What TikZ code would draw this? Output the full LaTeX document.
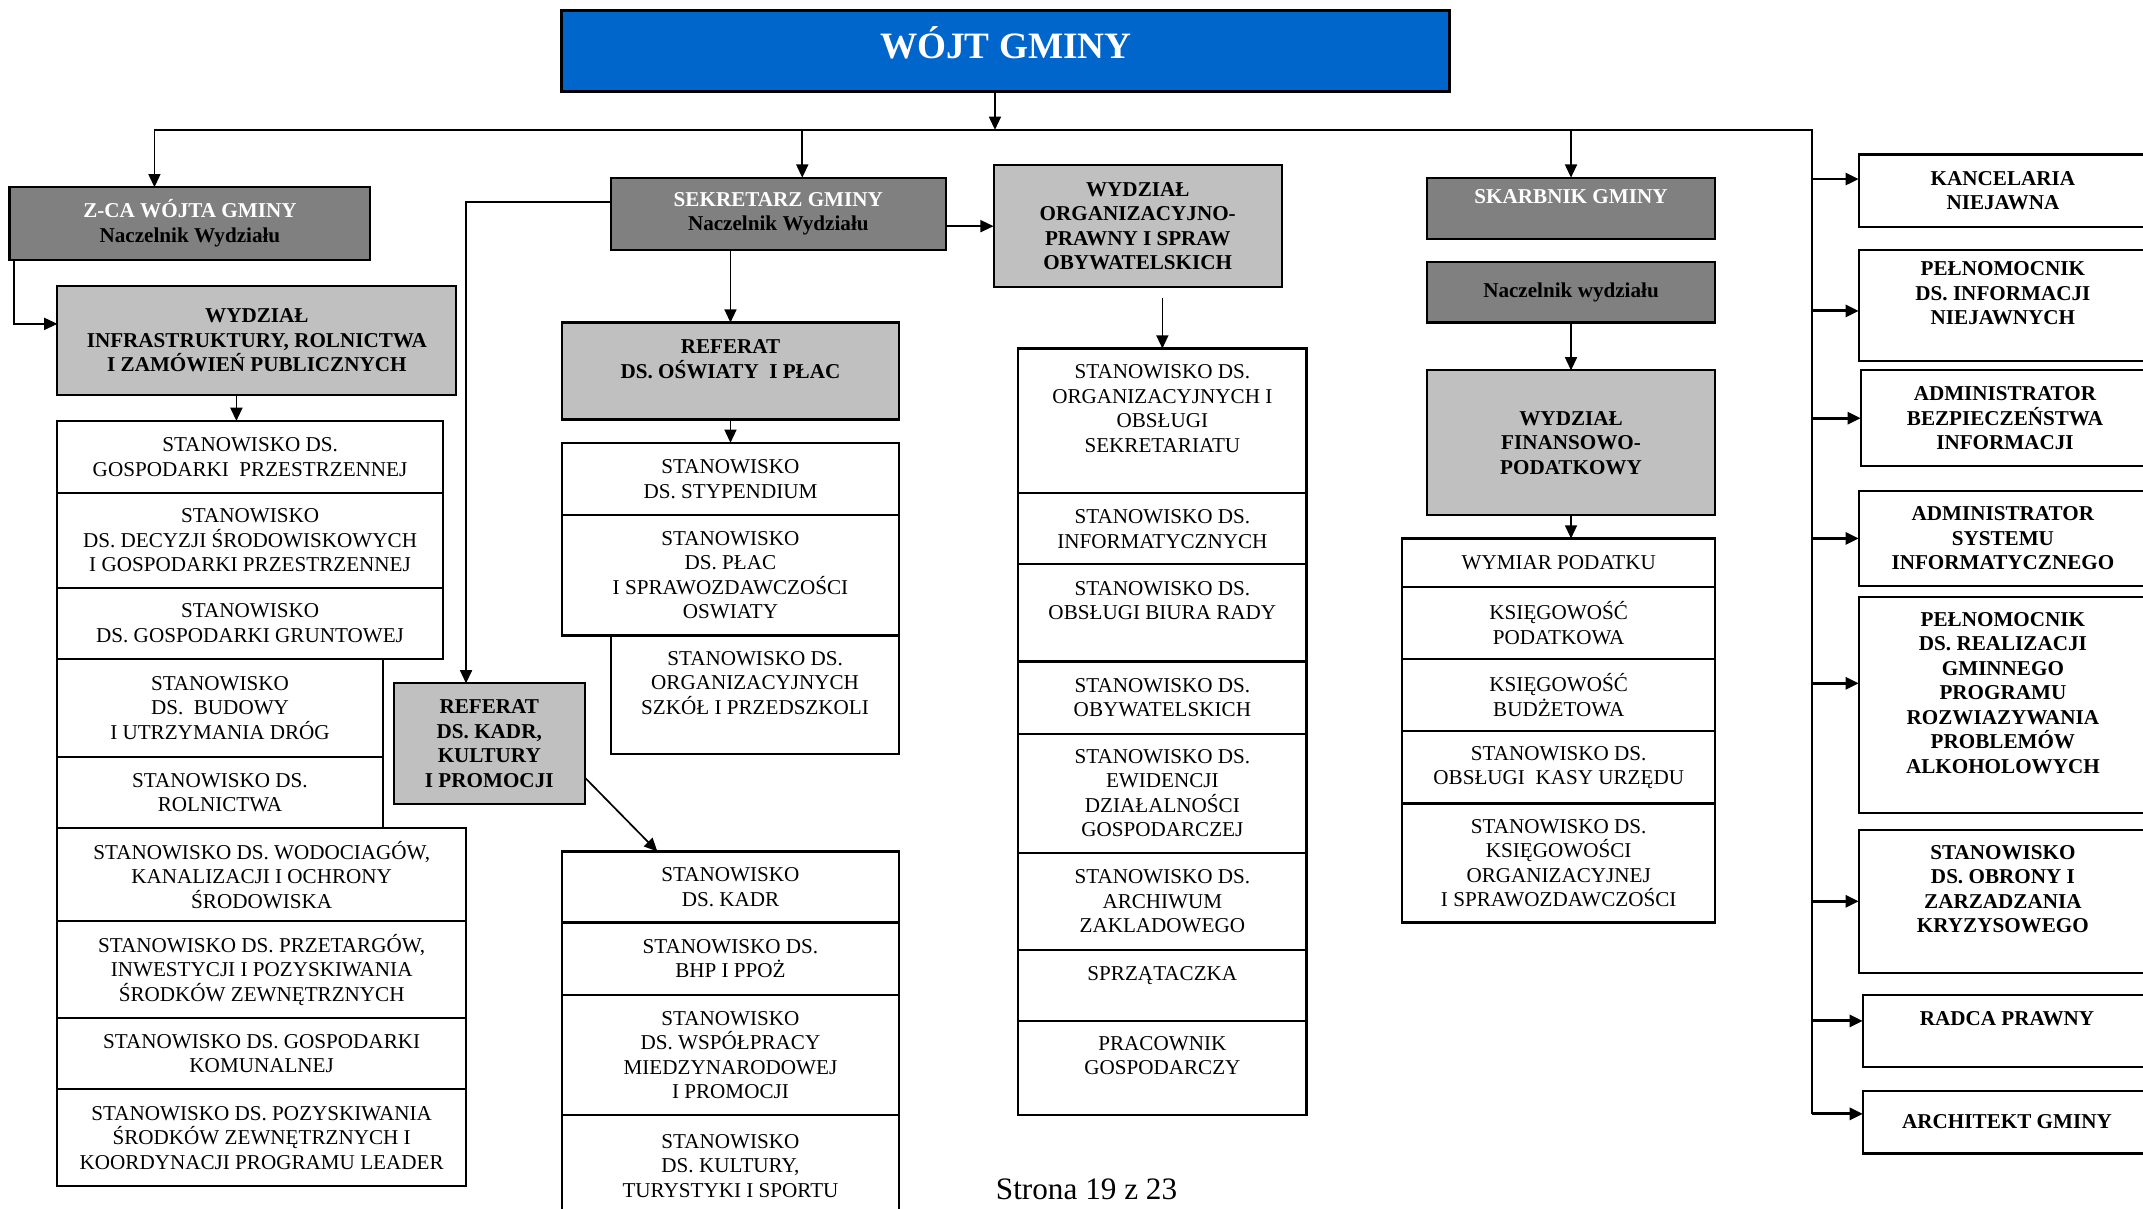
\documentclass[tikz,border=0pt]{standalone}
\usepackage{fontspec}
\setmainfont{Liberation Serif}
\usepackage{tikz}
\usetikzlibrary{positioning,arrows.meta}
\usepackage{xcolor}
\definecolor{wojtblue}{HTML}{0066CC}
\definecolor{headgray}{HTML}{808080}
\definecolor{unitgray}{HTML}{C0C0C0}
\tikzset{
  orgbox/.style={draw,line width=0.9pt,outer sep=0pt,inner sep=1pt,align=center,
    font=\fontsize{8.8}{10.2}\selectfont},
  stbox/.style={orgbox,fill=white},
  headbox/.style={orgbox,fill=headgray,font=\fontsize{8.8}{10.2}\selectfont\bfseries},
  unitbox/.style={orgbox,fill=unitgray,font=\fontsize{8.8}{10.2}\selectfont\bfseries},
  sidebox/.style={orgbox,fill=white,font=\fontsize{8.8}{10.2}\selectfont\bfseries,
    minimum width=4.22cm,anchor=north west},
}

\begin{document}
\begin{tikzpicture}[x=0.02cm,y=-0.02cm,>={Triangle[length=5.5pt,width=5pt]},line width=0.7pt]
\useasboundingbox (0,0) rectangle (1568,884);

% top of the chart
\node[orgbox,fill=wojtblue,line width=1.2pt,minimum width=13cm,minimum height=1.18cm,anchor=north west,
  text=white,font=\fontsize{15.5}{18}\selectfont\bfseries] (wojt) at (411,8) {WÓJT GMINY\\[-11pt]~};
\coordinate (busL) at (113,95);
\coordinate (busR) at (1326,95);
\coordinate (busW) at (728,95);
\coordinate (tapS) at (587,95);

% left column
\node[headbox,minimum width=5.28cm,minimum height=1.06cm,anchor=north west] (zca) at (7,137)
  {{\color{white}Z-CA WÓJTA GMINY}\\Naczelnik Wydziału};
\node[unitbox,minimum width=5.84cm,minimum height=1.6cm,anchor=north west] (infra) at (42,209)
  {WYDZIAŁ\\INFRASTRUKTURY, ROLNICTWA\\I ZAMÓWIEŃ PUBLICZNYCH};
\node[stbox,minimum width=5.64cm,minimum height=1.06cm,anchor=north west] (gosp) at (42,308)
  {STANOWISKO DS.\\GOSPODARKI~ PRZESTRZENNEJ};
\node[stbox,minimum width=5.64cm,minimum height=1.38cm,below=0pt of gosp] (decyz)
  {STANOWISKO\\DS. DECYZJI ŚRODOWISKOWYCH\\I GOSPODARKI PRZESTRZENNEJ};
\node[stbox,minimum width=5.64cm,minimum height=1.04cm,below=0pt of decyz] (grunt)
  {STANOWISKO\\DS. GOSPODARKI GRUNTOWEJ};
\node[stbox,minimum width=4.76cm,minimum height=1.44cm,anchor=north west] (drog) at (grunt.south west)
  {STANOWISKO\\DS.~ BUDOWY\\I UTRZYMANIA DRÓG};
\node[stbox,minimum width=4.76cm,minimum height=1.04cm,below=0pt of drog] (roln)
  {STANOWISKO DS.\\ROLNICTWA};
\node[stbox,minimum width=5.98cm,minimum height=1.36cm,anchor=north west] (wodoc) at (roln.south west)
  {STANOWISKO DS. WODOCIAGÓW,\\KANALIZACJI I OCHRONY\\ŚRODOWISKA};
\node[stbox,minimum width=5.98cm,minimum height=1.42cm,below=0pt of wodoc] (przet)
  {STANOWISKO DS. PRZETARGÓW,\\INWESTYCJI I POZYSKIWANIA\\ŚRODKÓW ZEWNĘTRZNYCH};
\node[stbox,minimum width=5.98cm,minimum height=1.04cm,below=0pt of przet] (komun)
  {STANOWISKO DS. GOSPODARKI\\KOMUNALNEJ};
\node[stbox,minimum width=5.98cm,minimum height=1.42cm,below=0pt of komun] (leader)
  {STANOWISKO DS. POZYSKIWANIA\\ŚRODKÓW ZEWNĘTRZNYCH I\\KOORDYNACJI PROGRAMU LEADER};

% sekretarz
\node[headbox,minimum width=4.9cm,minimum height=1.06cm,anchor=north west] (sek) at (447,130)
  {{\color{white}SEKRETARZ GMINY}\\Naczelnik Wydziału};
\node[unitbox,minimum width=4.94cm,minimum height=1.42cm,anchor=north west] (refosw) at (411,236)
  {REFERAT\\DS. OŚWIATY~ I PŁAC\\~};
\node[stbox,minimum width=4.94cm,minimum height=1.06cm,anchor=north west] (styp) at (411,324)
  {STANOWISKO\\DS. STYPENDIUM};
\node[stbox,minimum width=4.94cm,minimum height=1.76cm,below=0pt of styp] (plac)
  {STANOWISKO\\DS. PŁAC\\I SPRAWOZDAWCZOŚCI\\OSWIATY};
\node[stbox,minimum width=4.22cm,minimum height=1.74cm,anchor=north east] (szkol) at (plac.south east)
  {STANOWISKO DS.\\ORGANIZACYJNYCH\\SZKÓŁ I PRZEDSZKOLI\\~};
\node[unitbox,minimum width=2.8cm,minimum height=1.76cm,anchor=north west] (refkadr) at (288,500)
  {REFERAT\\DS. KADR,\\KULTURY\\I PROMOCJI};
\node[stbox,minimum width=4.94cm,minimum height=1.04cm,anchor=north west] (kadr) at (411,623)
  {STANOWISKO\\DS. KADR};
\node[stbox,minimum width=4.94cm,minimum height=1.06cm,below=0pt of kadr] (bhp)
  {STANOWISKO DS.\\BHP I PPOŻ};
\node[stbox,minimum width=4.94cm,minimum height=1.76cm,below=0pt of bhp] (wspol)
  {STANOWISKO\\DS. WSPÓŁPRACY\\MIEDZYNARODOWEJ\\I PROMOCJI};
\node[stbox,minimum width=4.94cm,minimum height=1.48cm,below=0pt of wspol] (kult)
  {STANOWISKO\\DS. KULTURY,\\TURYSTYKI I SPORTU};

% wydzial organizacyjny
\node[unitbox,minimum width=4.22cm,minimum height=1.78cm,anchor=north west] (worg) at (727,121)
  {WYDZIAŁ\\ORGANIZACYJNO-\\PRAWNY I SPRAW\\OBYWATELSKICH};
\node[stbox,minimum width=4.22cm,minimum height=2.12cm,anchor=north west] (sekr) at (745,255)
  {STANOWISKO DS.\\ORGANIZACYJNYCH I\\OBSŁUGI\\SEKRETARIATU\\~};
\node[stbox,minimum width=4.22cm,minimum height=1.04cm,below=0pt of sekr] (inform)
  {STANOWISKO DS.\\INFORMATYCZNYCH};
\node[stbox,minimum width=4.22cm,minimum height=1.42cm,below=0pt of inform] (biuro)
  {STANOWISKO DS.\\OBSŁUGI BIURA RADY\\~};
\node[stbox,minimum width=4.22cm,minimum height=1.06cm,below=0pt of biuro] (obyw)
  {STANOWISKO DS.\\OBYWATELSKICH};
\node[stbox,minimum width=4.22cm,minimum height=1.74cm,below=0pt of obyw] (ewid)
  {STANOWISKO DS.\\EWIDENCJI\\DZIAŁALNOŚCI\\GOSPODARCZEJ};
\node[stbox,minimum width=4.22cm,minimum height=1.42cm,below=0pt of ewid] (archiw)
  {STANOWISKO DS.\\ARCHIWUM\\ZAKLADOWEGO};
\node[stbox,minimum width=4.22cm,minimum height=1.04cm,below=0pt of archiw] (sprzat)
  {SPRZĄTACZKA\\~};
\node[stbox,minimum width=4.22cm,minimum height=1.38cm,below=0pt of sprzat] (pracow)
  {PRACOWNIK\\GOSPODARCZY\\~};

% skarbnik
\node[headbox,minimum width=4.22cm,minimum height=0.9cm,anchor=north west] (skarb) at (1044,130)
  {{\color{white}SKARBNIK GMINY}\\~};
\node[headbox,minimum width=4.22cm,minimum height=0.88cm,anchor=north west] (nacz) at (1044,192)
  {Naczelnik wydziału};
\node[unitbox,minimum width=4.22cm,minimum height=2.12cm,anchor=north west] (fin) at (1044,271)
  {WYDZIAŁ\\FINANSOWO-\\PODATKOWY};
\node[stbox,minimum width=4.58cm,minimum height=0.71cm,anchor=north west] (wymiar) at (1026,394)
  {WYMIAR PODATKU};
\node[stbox,minimum width=4.58cm,minimum height=1.05cm,below=0pt of wymiar] (ksiegp)
  {KSIĘGOWOŚĆ\\PODATKOWA};
\node[stbox,minimum width=4.58cm,minimum height=1.06cm,below=0pt of ksiegp] (ksiegb)
  {KSIĘGOWOŚĆ\\BUDŻETOWA};
\node[stbox,minimum width=4.58cm,minimum height=1.06cm,below=0pt of ksiegb] (kasa)
  {STANOWISKO DS.\\OBSŁUGI~ KASY URZĘDU};
\node[stbox,minimum width=4.58cm,minimum height=1.74cm,below=0pt of kasa] (ksiego)
  {STANOWISKO DS.\\KSIĘGOWOŚCI\\ORGANIZACYJNEJ\\I SPRAWOZDAWCZOŚCI};

% right column
\node[sidebox,minimum height=1.06cm] (kanc) at (1360,113) {KANCELARIA\\NIEJAWNA};
\node[sidebox,minimum height=1.62cm] (pelinf) at (1360,183) {PEŁNOMOCNIK\\DS. INFORMACJI\\NIEJAWNYCH\\~};
\node[sidebox,minimum height=1.4cm] (admbez) at (1361.5,271) {ADMINISTRATOR\\BEZPIECZEŃSTWA\\INFORMACJI};
\node[sidebox,minimum height=1.4cm] (admsys) at (1360,359) {ADMINISTRATOR\\SYSTEMU\\INFORMATYCZNEGO};
\node[sidebox,minimum height=3.16cm] (pelalk) at (1360,437)
  {PEŁNOMOCNIK\\DS. REALIZACJI\\GMINNEGO\\PROGRAMU\\ROZWIAZYWANIA\\PROBLEMÓW\\ALKOHOLOWYCH\\~};
\node[sidebox,minimum height=2.1cm] (obrony) at (1360,607)
  {STANOWISKO\\DS. OBRONY I\\ZARZADZANIA\\KRYZYSOWEGO\\~};
\node[sidebox,minimum height=1.06cm] (radca) at (1363,728) {RADCA PRAWNY\\~};
\node[sidebox,minimum height=0.92cm] (archit) at (1363,798) {ARCHITEKT GMINY};

\node[font=\fontsize{13}{15}\selectfont] (strona) at (795,870) {Strona 19 z 23};

% connectors
\draw[->] (busW |- wojt.south) -- (busW);
\draw (busL) -- (busR) -- ([yshift=0.12cm]archit.west -| busR);
\draw[->] (busL) -- (busL |- zca.north);
\draw[->] ([xshift=0.06cm]zca.south west) |- ([yshift=0.24cm]infra.west);
\draw[->] ([xshift=-0.3cm]infra.south) -- ([xshift=-0.3cm]infra.south |- gosp.north);
\draw[->] (tapS) -- (tapS |- sek.north);
\draw[->] ([yshift=0.17cm]sek.west) -| ([xshift=-0.34cm]refkadr.north);
\draw[->] (worg.west -| sek.east) -- (worg.west);
\draw[->] (refosw.north |- sek.south) -- (refosw.north);
\draw[->] (refosw.south) -- (styp.north);
\draw[->] ([yshift=-0.5cm]refkadr.east) -- ([xshift=-1.07cm]kadr.north);
\draw[->] ([yshift=0.74cm]sekr.north) -- (sekr.north);
\draw[->] (skarb.north |- busL) -- (skarb.north);
\draw[->] (nacz.south) -- (fin.north);
\draw[->] (fin.south) -- (fin.south |- wymiar.north);
\foreach \n/\s in {kanc/0.17,pelinf/-0.08,admbez/0,admsys/0,pelalk/0.32,obrony/0,radca/0.15,archit/0.12}
  \draw[->,line width=1.2pt] ([yshift=\s cm]\n.west -| busR) -- ([yshift=\s cm]\n.west);
\end{tikzpicture}
\end{document}
